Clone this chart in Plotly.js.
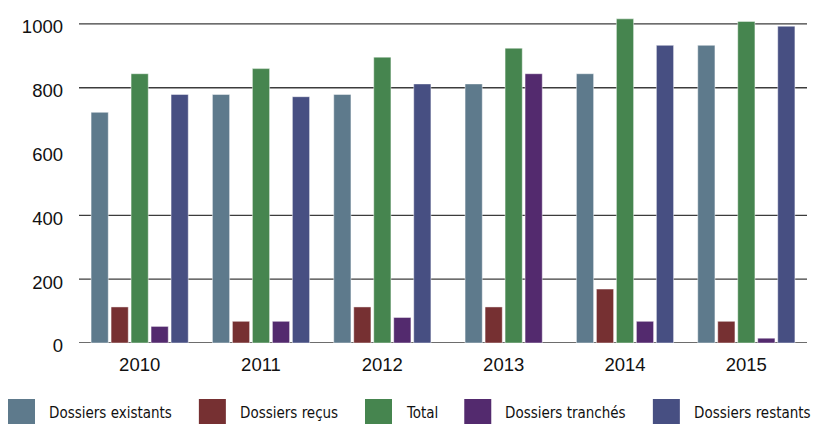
<!DOCTYPE html>
<html>
<head>
<meta charset="utf-8">
<script src="https://cdn.plot.ly/plotly-3.0.1.min.js"></script>
<style>
  html, body { margin: 0; padding: 0; background: #fff; }
  #chart { width: 826px; height: 424px; }
</style>
</head>
<body>
<div id="chart"></div>
<script>
// ---- data ----
const years = ["2010", "2011", "2012", "2013", "2014", "2015"];
const seriesNames = ["Dossiers existants", "Dossiers reçus", "Total", "Dossiers tranchés", "Dossiers restants"];
const existants = [723, 779, 779, 812, 844, 933];
const recus     = [113, 68, 113, 113, 169, 68];
const total     = [844, 860, 896, 924, 1016, 1008];
const tranches  = [52, 68, 80, 844, 68, 15];
const restants  = [779, 772, 812, null, 933, 993];
const yTicks    = [0, 200, 400, 600, 800, 1000];
const gridValues = [0, 200, 400, 800, 1000];   // the 600 line is absent in the reference

// ---- styles ----
const colors = ["#5E7A8C", "#763032", "#46854F", "#532A6E", "#474F82"];
const allSeries = [existants, recus, total, tranches, restants];

const M = { l: 79, r: 19, t: 8, b: 81 };
const W = 826, H = 424;
const plotW = W - M.l - M.r, plotH = H - M.t - M.b;

// group geometry (category units)
const slot = 0.1648;
const barW = slot * 0.86;

const traces = allSeries.map((vals, s) => {
  const offsets = [], widths = [];
  years.forEach((_, i) => {
    const present = allSeries.map(a => a[i] != null);
    const n = present.filter(Boolean).length;
    const k = present.slice(0, s).filter(Boolean).length;
    offsets.push(-n * slot / 2 + k * slot + (slot - barW) / 2);
    widths.push(barW);
  });
  return {
    type: "bar",
    name: seriesNames[s],
    x: years,
    y: vals,
    offset: offsets,
    width: widths,
    marker: { color: colors[s], line: { color: "rgba(255,255,255,0.45)", width: 1 } },
    showlegend: false,
    hoverinfo: "x+y+name"
  };
});

const shapes = gridValues.map(v => ({
  type: "line", xref: "paper", yref: "y", x0: 0, x1: 1, y0: v, y1: v,
  line: { color: "#3c3c3c", width: 1.3 }, layer: "below"
}));

// custom legend with large swatches
const legFont = "15px 'DejaVu Sans Condensed', 'DejaVu Sans', sans-serif";
const ctx = document.createElement("canvas").getContext("2d");
ctx.font = legFont;
const annotations = [];
let px = 8;
const sq = 27, sqTop = 399, gapText = 12, gapItem = 29;
const toPX = x => (x - M.l) / plotW;
const toPY = y => (M.t + plotH - y) / plotH;
seriesNames.forEach((name, s) => {
  shapes.push({
    type: "rect", xref: "paper", yref: "paper",
    x0: toPX(px), x1: toPX(px + sq), y0: toPY(sqTop), y1: toPY(sqTop + sq),
    fillcolor: colors[s], line: { width: 0 }
  });
  const tx = px + sq + gapText;
  annotations.push({
    xref: "paper", yref: "paper", x: toPX(tx), y: toPY(412.5),
    xanchor: "left", yanchor: "middle", showarrow: false, text: name,
    font: { family: "'DejaVu Sans Condensed', 'DejaVu Sans', sans-serif", size: 15, color: "#111" }
  });
  px = tx + ctx.measureText(name).width + gapItem;
});

const layout = {
  width: W, height: H,
  margin: M,
  paper_bgcolor: "#fff", plot_bgcolor: "#fff",
  barmode: "group",
  showlegend: false,
  xaxis: {
    type: "category",
    showgrid: false, zeroline: false, showline: false, ticks: "",
    ticklabelstandoff: 8,
    tickfont: { family: "Liberation Sans, Arial, sans-serif", size: 18.5, color: "#111" }
  },
  yaxis: {
    range: [0, 1050], tickvals: yTicks, ticktext: yTicks.map(String),
    showgrid: false, zeroline: false, showline: false, ticks: "",
    ticklabelstandoff: 15, ticklabelshift: 3,
    tickfont: { family: "Liberation Sans, Arial, sans-serif", size: 18.5, color: "#111" }
  },
  shapes: shapes,
  annotations: annotations
};

Plotly.newPlot("chart", traces, layout, { displayModeBar: false, staticPlot: true });
</script>
</body>
</html>
